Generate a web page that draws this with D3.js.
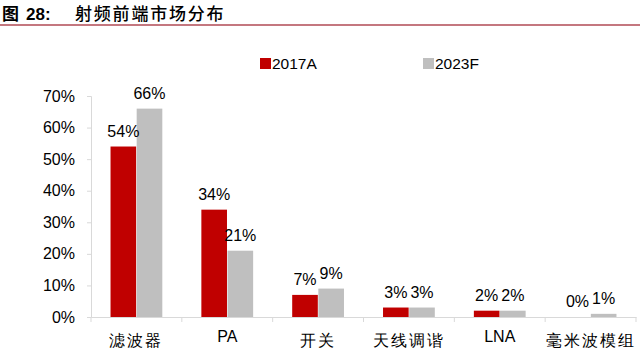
<!DOCTYPE html>
<html>
<head>
<meta charset="utf-8">
<script src="https://cdn.jsdelivr.net/npm/d3@7"></script>
<style>
  body { margin: 0; background: #fff; }
  text { font-family: Arial, "Liberation Sans", sans-serif; }
  .cjk { font-family: "Noto Sans CJK SC", sans-serif; }
</style>
</head>
<body>
<div id="chart"></div>
<script>
// data
const categories = ["滤波器", "PA", "开关", "天线调谐", "LNA", "毫米波模组"];
const series = ["2017A", "2023F"];
const values2017 = [54, 34, 7, 3, 2, 0];
const values2023 = [66, 21, 9, 3, 2, 1];
const yTicks = [0, 10, 20, 30, 40, 50, 60, 70];
const colors = ["#C00000", "#BFBFBF"];

const width = 640, height = 353;
const margin = { top: 96, right: 4, bottom: 36, left: 91 };

const svg = d3.select("#chart").append("svg")
    .attr("width", width)
    .attr("height", height);

// title
svg.append("text")
    .attr("x", 2).attr("y", 20)
    .attr("font-size", 17).attr("font-weight", "bold")
    .attr("class", "cjk")
    .text("图");
svg.append("text")
    .attr("x", 26).attr("y", 20)
    .attr("font-size", 17).attr("font-weight", "bold")
    .text("28:");
svg.append("text")
    .attr("x", 75).attr("y", 20)
    .attr("font-size", 17).attr("letter-spacing", 1.8)
    .attr("font-weight", 500)
    .attr("class", "cjk")
    .text("射频前端市场分布");

svg.append("line")
    .attr("x1", 0).attr("x2", width)
    .attr("y1", 25).attr("y2", 25)
    .attr("stroke", "#B04A55").attr("stroke-width", 1.5);

// legend
const legend = svg.append("g");
const legendX = [260, 423];
series.forEach((s, i) => {
    legend.append("rect")
        .attr("x", legendX[i]).attr("y", 58)
        .attr("width", 11).attr("height", 11)
        .attr("fill", colors[i]);
    legend.append("text")
        .attr("x", legendX[i] + 12).attr("y", 69)
        .attr("font-size", 15.5).attr("fill", "#000")
        .text(s);
});

const innerH = height - margin.top - margin.bottom;
const g = svg.append("g")
    .attr("transform", "translate(" + margin.left + "," + margin.top + ")");

const x0 = d3.scaleBand()
    .domain(categories)
    .range([0, 545])
    .paddingInner(0.43)
    .paddingOuter(0.215);

const x1 = d3.scaleBand()
    .domain(series)
    .range([0, x0.bandwidth()])
    .paddingInner(0.02);

const y = d3.scaleLinear()
    .domain([0, 70])
    .range([innerH, 0]);

// y axis
const yAxis = g.append("g")
    .call(d3.axisLeft(y).tickValues(yTicks).tickFormat(d => d + "%").tickSize(4).tickPadding(12));
yAxis.select(".domain").attr("stroke", "#D9D9D9");
yAxis.selectAll(".tick line").attr("stroke", "#D9D9D9");
yAxis.selectAll(".tick text").attr("font-size", 16).attr("fill", "#000")
    .attr("font-family", "Arial, 'Liberation Sans', sans-serif");

// x axis
const xAxis = g.append("g")
    .attr("transform", "translate(0," + innerH + ")")
    .call(d3.axisBottom(x0).tickSize(0).tickPadding(14));
xAxis.select(".domain").attr("stroke", "#D9D9D9");
xAxis.selectAll(".tick text")
    .attr("font-size", 16).attr("fill", "#000")
    .attr("dy", d => d === "PA" || d === "LNA" ? "0.71em" : "0.95em")
    .attr("letter-spacing", d => d === "PA" || d === "LNA" ? 0 : 2)
    .attr("font-family", d => d === "PA" || d === "LNA" ? "Arial, 'Liberation Sans', sans-serif" : "'Noto Sans CJK SC', sans-serif");

// category separator ticks
g.append("g").selectAll("line")
    .data(d3.range(categories.length + 1))
    .join("line")
    .attr("x1", d => d * (545 / categories.length))
    .attr("x2", d => d * (545 / categories.length))
    .attr("y1", innerH).attr("y2", innerH + 5)
    .attr("stroke", "#D9D9D9");

// bars
const rows = categories.map((c, i) => ({ cat: c, vals: [values2017[i], values2023[i]] }));
const groups = g.selectAll(".grp")
    .data(rows)
    .join("g")
    .attr("transform", d => "translate(" + x0(d.cat) + ",0)");

groups.selectAll("rect")
    .data(d => d.vals.map((v, i) => ({ s: series[i], v: v, i: i })))
    .join("rect")
    .attr("x", d => x1(d.s))
    .attr("y", d => y(d.v))
    .attr("width", x1.bandwidth())
    .attr("height", d => innerH - y(d.v))
    .attr("fill", d => colors[d.i]);

groups.selectAll("text.val")
    .data(d => d.vals.map((v, i) => ({ s: series[i], v: v, i: i })))
    .join("text")
    .attr("class", "val")
    .attr("x", d => x1(d.s) + x1.bandwidth() / 2)
    .attr("y", d => y(d.v) - 10)
    .attr("text-anchor", "middle")
    .attr("font-size", 16).attr("fill", "#000")
    .text(d => d.v + "%");
</script>
</body>
</html>
